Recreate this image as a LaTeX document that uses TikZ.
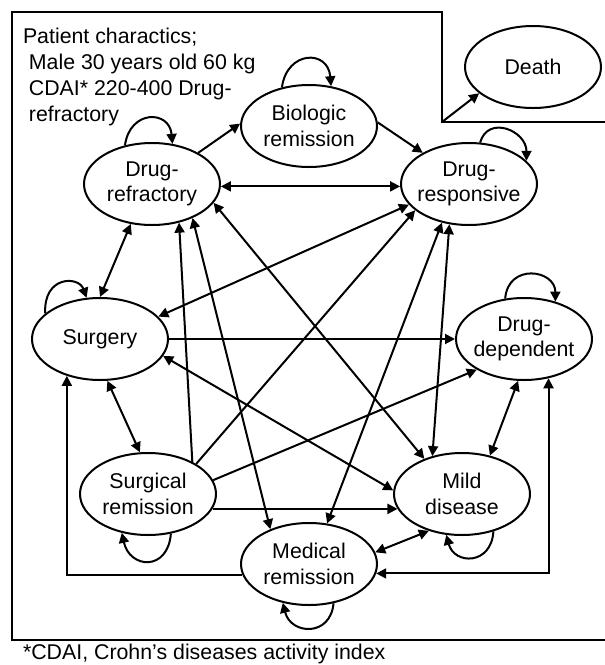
\documentclass[tikz,border=0pt]{standalone}
\usepackage{fontspec}
\setmainfont{Liberation Sans}
\usetikzlibrary{arrows.meta}
\usetikzlibrary{shapes.geometric}
\tikzset{every picture/.style={line width=1.5pt}}
\tikzset{
  stateellipse/.style={draw, ellipse, minimum width=102pt, minimum height=61.5pt, inner xsep=-12pt, inner ysep=0pt, align=center},
  oneway/.style={-{Triangle[length=7.5pt,width=7.5pt]}},
  twoway/.style={{Triangle[length=7.5pt,width=7.5pt]}-{Triangle[length=7.5pt,width=7.5pt]}}
}

\begin{document}
\begin{tikzpicture}[x=0.75pt,y=0.75pt,yscale=-1,xscale=1,font=\fontsize{16pt}{19.3pt}\selectfont]
\useasboundingbox (0,0) rectangle (605,665);

%Frame with notch for Death
\draw (605,122) -- (442,122) -- (442,12) -- (12,12) -- (12,640) -- (605,640);
\coordinate (notch) at (442,122);

%States
\node [stateellipse] (refractory) at (152,184) {Drug-\\refractory};
\node [stateellipse] (biologic) at (309,126) {Biologic\\remission};
\node [stateellipse] (responsive) at (469,184) {Drug-\\responsive};
\node [stateellipse] (surgery) at (100,339) {Surgery};
\node [stateellipse] (dependent) at (524,339) {Drug-\\dependent};
\node [stateellipse] (surgrem) at (148,494) {Surgical\\remission};
\node [stateellipse] (mild) at (462,494) {Mild\\disease};
\node [stateellipse] (medrem) at (309,564) {Medical\\remission};
\node [stateellipse] (death) at (533,67) {Death};

% Text Node
\node [anchor=north west, inner sep=0pt, align=left] (patient) at (22,27.5) {Patient charactics;\\~Male 30 years old 60 kg\\~CDAI* 220-400 Drug-\\~refractory};
% Text Node
\node [anchor=base west, inner sep=0pt] (footnote) at (22,659) {*CDAI, Crohn’s diseases activity index};

%Transitions
\draw [oneway] (notch) -- (death.206);
\draw [oneway] (refractory.34) -- (biologic.178);
\draw [oneway] (biologic.3) -- (responsive.146);
\draw [twoway] (refractory.358) -- (responsive.182);
\draw [twoway] (refractory.242) -- (surgery.90);
\draw [twoway] (refractory.343) -- (mild.137);
\draw [oneway] (surgrem.36) -- (refractory.305);
\draw [twoway] (refractory.320) -- (medrem.138);
\draw [twoway] (surgery.21) -- (responsive.199);
\draw [oneway] (surgrem.32) -- (responsive.206);
\draw [twoway] (medrem.66) -- (responsive.235);
\draw [twoway] (mild.128) -- (responsive.244);
\draw [oneway] (surgery.east) -- (dependent.west);
\draw [oneway] (surgrem.12) -- (dependent.213);
\draw [twoway] (mild.54) -- (dependent.262);
\draw [twoway] (medrem.352) -| (dependent.302);
\draw [twoway] (surgery.345) -- (mild.177);
\draw [twoway] (surgery.280) -- (surgrem.101);
\draw [oneway] (medrem.189) -| (surgery.228);
\draw [oneway] (surgrem.347) -- (mild.193);
\draw [twoway] (medrem.10) -- (mild.228);

%Self loops
\draw [oneway] (refractory.125) .. controls +(5,-36) and +(-3,-34) .. (refractory.63);
\draw [oneway] (biologic.125) .. controls +(5,-37) and +(-3,-37) .. (biologic.61);
\draw [oneway] (responsive.75) .. controls +(8,-28) and +(0,-30) .. (responsive.22);
\draw [oneway] (dependent.115) .. controls +(3,-36) and +(0,-32) .. (dependent.50);
\draw [oneway] (surgery.155) .. controls +(-2,-38) and +(-8,-22) .. (surgery.108);
\draw [oneway] (surgrem.300) .. controls +(-3,38) and +(8,36) .. (surgrem.236);
\draw [oneway] (mild.310) .. controls +(-2,34) and +(8,30) .. (mild.249);
\draw [oneway] (medrem.302) .. controls +(-3,34) and +(8,32) .. (medrem.236);

\end{tikzpicture}
\end{document}
